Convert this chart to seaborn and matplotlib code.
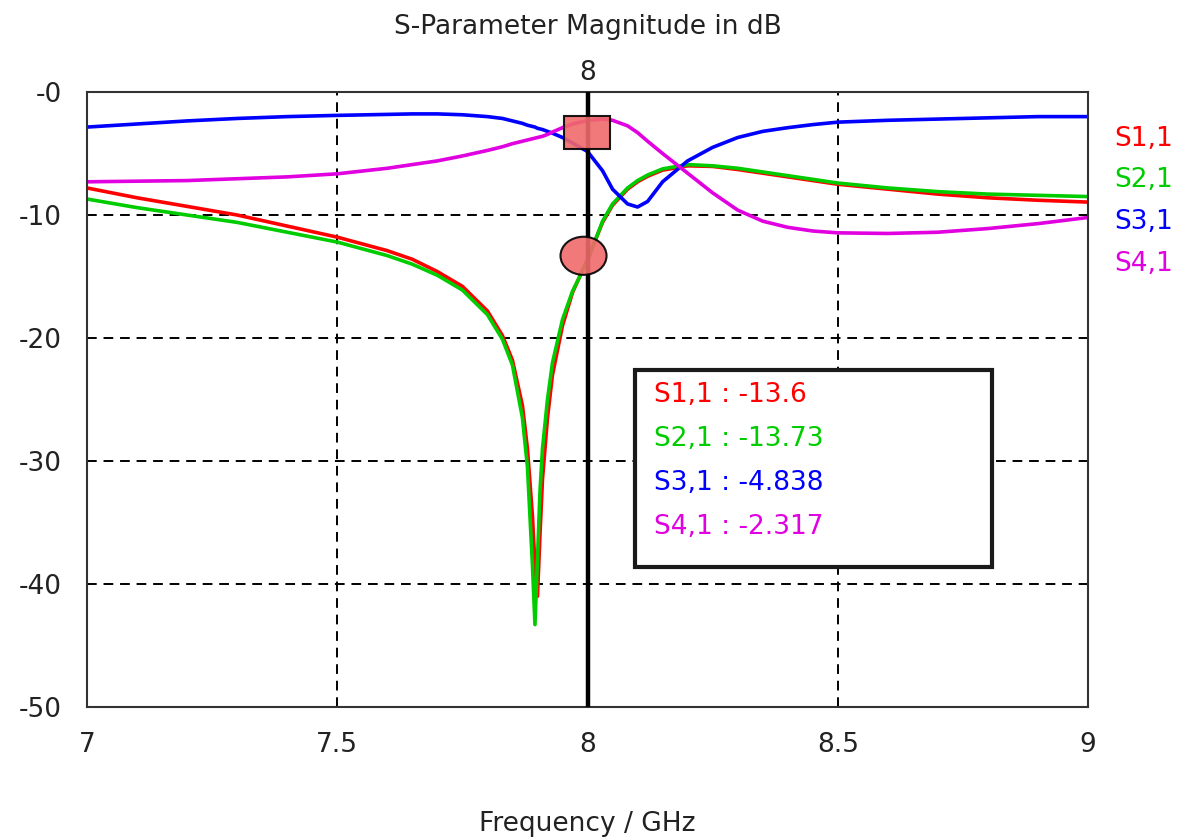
import numpy as np
import pandas as pd
import matplotlib
matplotlib.use("Agg")
import matplotlib.pyplot as plt
import seaborn as sns
from matplotlib.patches import Rectangle, Ellipse

freq = [7.0, 7.1, 7.2, 7.3, 7.4, 7.5, 7.6, 7.65, 7.7, 7.75, 7.8, 7.83, 7.85, 7.87, 7.88,
        7.89, 7.895, 7.9, 7.905, 7.91, 7.92, 7.93, 7.95, 7.97, 8.0, 8.03, 8.05, 8.08, 8.1,
        8.12, 8.15, 8.2, 8.25, 8.3, 8.35, 8.4, 8.45, 8.5, 8.6, 8.7, 8.8, 8.9, 9.0]

s11 = [-7.8, -8.6, -9.3, -10.0, -10.9, -11.8, -12.9, -13.6, -14.6, -15.8, -17.8, -19.8, -21.8,
       -25.5, -29.0, -34.5, -38.5, -41.0, -36.0, -31.5, -26.5, -23.0, -19.0, -16.3, -13.6,
       -10.6, -9.2, -7.9, -7.3, -6.85, -6.35, -6.0, -6.05, -6.3, -6.6, -6.9, -7.2, -7.5, -7.9,
       -8.3, -8.6, -8.8, -8.95]

s21 = [-8.7, -9.4, -10.0, -10.6, -11.4, -12.2, -13.3, -14.0, -14.9, -16.1, -18.1, -20.1, -22.2,
       -26.5, -30.5, -38.5, -43.3, -38.0, -32.5, -29.0, -25.0, -22.0, -18.5, -16.2, -13.73,
       -10.5, -9.1, -7.8, -7.2, -6.75, -6.25, -5.9, -6.0, -6.2, -6.5, -6.8, -7.1, -7.4, -7.8,
       -8.1, -8.3, -8.4, -8.5]

s31 = [-2.85, -2.6, -2.35, -2.15, -2.0, -1.9, -1.82, -1.78, -1.78, -1.85, -2.0, -2.15, -2.35,
       -2.55, -2.7, -2.8, -2.85, -2.95, -3.0, -3.05, -3.2, -3.35, -3.7, -4.15, -4.838,
       -6.4, -7.9, -9.1, -9.35, -8.9, -7.3, -5.6, -4.5, -3.7, -3.2, -2.9, -2.65, -2.45, -2.3,
       -2.2, -2.1, -2.0, -2.0]

s41 = [-7.3, -7.25, -7.2, -7.05, -6.9, -6.65, -6.2, -5.9, -5.6, -5.2, -4.75, -4.45, -4.2,
       -4.0, -3.9, -3.8, -3.75, -3.7, -3.65, -3.6, -3.45, -3.25, -2.9, -2.6, -2.317,
       -2.2, -2.3, -2.75, -3.3, -4.0, -5.0, -6.6, -8.2, -9.6, -10.5, -11.0, -11.3, -11.45, -11.5,
       -11.4, -11.1, -10.7, -10.2]

names = ["S1,1", "S2,1", "S3,1", "S4,1"]
colors = ["#ff0000", "#00cc00", "#0000ff", "#e000e0"]
marker_freq = 8.0
marker_values = ["-13.6", "-13.73", "-4.838", "-2.317"]
xticks = [7.0, 7.5, 8.0, 8.5, 9.0]
xtick_labels = ["7", "7.5", "8", "8.5", "9"]
yticks = [0, -10, -20, -30, -40, -50]
ytick_labels = ["-0", "-10", "-20", "-30", "-40", "-50"]

df = pd.concat([pd.DataFrame({"freq": freq, "val": v, "param": n})
                for n, v in zip(names, [s11, s21, s31, s41])], ignore_index=True)

sns.set_style("white")
plt.rcParams["font.family"] = ["DejaVu Sans"]
FS = 19

fig = plt.figure(figsize=(11.95, 8.38), dpi=100)
ax = fig.add_axes([0.0728, 0.1563, 0.8377, 0.7339])

sns.lineplot(data=df, x="freq", y="val", hue="param", palette=dict(zip(names, colors)),
             linewidth=2.6, legend=False, ax=ax, estimator=None, sort=False)

ax.set_xlim(7.0, 9.0)
ax.set_ylim(-50, 0)
ax.set_xticks(xticks)
ax.set_xticklabels(xtick_labels)
ax.set_yticks(yticks)
ax.set_yticklabels(ytick_labels)
ax.tick_params(axis="both", labelsize=FS, length=6, color="#333333", direction="out",
               labelcolor="#222222")
ax.tick_params(axis="y", pad=12)
ax.tick_params(axis="x", pad=12)
for sp in ax.spines.values():
    sp.set_color("#333333")
    sp.set_linewidth(1.5)

# dashed grid
for y in yticks[1:-1]:
    ax.axhline(y, color="black", linestyle=(0, (5, 3.5)), linewidth=1.4, zorder=0.5)
for x in [7.5, 8.5]:
    ax.axvline(x, color="black", linestyle=(0, (5, 3.5)), linewidth=1.4, zorder=0.5)

ax.set_xlabel("Frequency / GHz", fontsize=FS, labelpad=38, color="#222222")
ax.set_ylabel("")
ax.set_title("S-Parameter Magnitude in dB", fontsize=FS, pad=42, color="#222222")

# marker line
ax.axvline(marker_freq, color="black", linewidth=3.2, zorder=3)
ax.text(marker_freq, 0.45, "8", ha="center", va="bottom", fontsize=FS, color="#222222")

idx = freq.index(marker_freq)
sq_y = (s31[idx] + s41[idx]) / 2
ci_y = (s11[idx] + s21[idx]) / 2
ax.add_patch(Rectangle((marker_freq - 0.047, sq_y + 0.25 - 1.34), 0.092, 2.68,
                       facecolor="#f06a6a", edgecolor="black", linewidth=1.5, zorder=4, alpha=0.9))
ax.add_patch(Ellipse((marker_freq - 0.008, ci_y + 0.35), 0.092, 3.1,
                     facecolor="#f06a6a", edgecolor="black", linewidth=1.5, zorder=4, alpha=0.9))

# marker readout box
ax.add_patch(Rectangle((8.095, -38.6), 0.713, 16.0, facecolor="white",
                       edgecolor="#1a1a1a", linewidth=3, zorder=5))
for i, (n, v, c) in enumerate(zip(names, marker_values, colors)):
    ax.text(8.132, -24.6 - i * 3.6, f"{n} : {v}", color=c, fontsize=FS,
            va="center", ha="left", zorder=6)

# right legend
for i, (n, c) in enumerate(zip(names, colors)):
    fig.text(1114 / 1195, 1 - (139 + i * 41.5) / 838, n, color=c, fontsize=FS,
             va="center", ha="left")

fig.savefig("out.png", dpi=100)
